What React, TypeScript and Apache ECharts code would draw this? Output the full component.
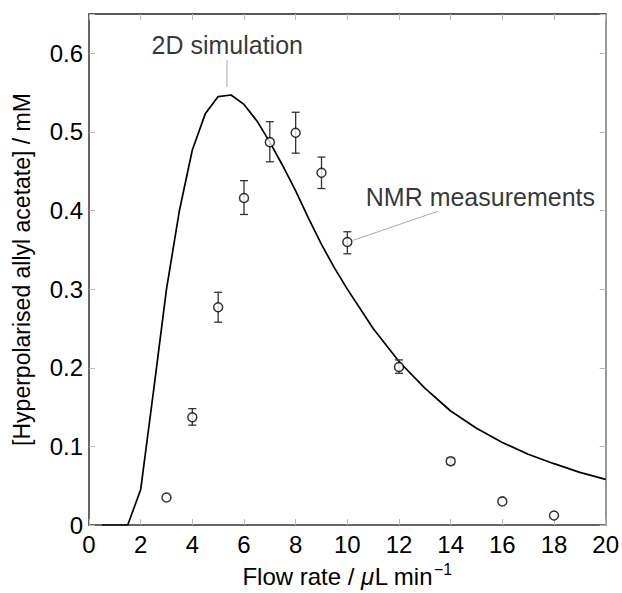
import React, { useEffect, useRef } from "react";
import * as echarts from "echarts";

// 2D simulation curve
const simX = [0.5, 1, 1.5, 2, 2.5, 3, 3.5, 4, 4.5, 5, 5.5, 6, 6.5, 7, 7.5, 8, 8.5, 9, 9.5, 10, 11, 12, 13, 14, 15, 16, 17, 18, 19, 20];
const simY = [0, 0, 0, 0.045, 0.171, 0.3, 0.4, 0.477, 0.523, 0.545, 0.547, 0.535, 0.514, 0.487, 0.457, 0.425, 0.39, 0.357, 0.327, 0.3, 0.25, 0.208, 0.174, 0.145, 0.123, 0.105, 0.09, 0.078, 0.067, 0.058];

// NMR measurements
const nmrX = [3, 4, 5, 6, 7, 8, 9, 10, 12, 14, 16, 18];
const nmrY = [0.035, 0.137, 0.277, 0.416, 0.487, 0.499, 0.448, 0.36, 0.201, 0.081, 0.03, 0.012];
const nmrLow = [0.035, 0.127, 0.258, 0.395, 0.462, 0.473, 0.428, 0.345, 0.193, 0.077, 0.03, 0.012];
const nmrHigh = [0.035, 0.148, 0.296, 0.438, 0.513, 0.525, 0.468, 0.373, 0.21, 0.085, 0.03, 0.012];

// annotations (data coordinates)
const annoText = ["2D simulation", "NMR measurements"];
const annoPos = [[5.35, 0.61], [15.15, 0.417]];
const leaderLines = [
  [[5.34, 0.591], [5.34, 0.557]],
  [[13.5, 0.399], [10.21, 0.362]],
];

const xTicks = [0, 2, 4, 6, 8, 10, 12, 14, 16, 18, 20];
const yTicks = [0, 0.1, 0.2, 0.3, 0.4, 0.5, 0.6];

const FONT = "'Liberation Sans', Arial, Helvetica, sans-serif";

export default function App() {
  const ref = useRef<HTMLDivElement>(null);
  useEffect(() => {
    if (!ref.current) return;
    const chart = echarts.init(ref.current, undefined, { renderer: "svg" });
    const tickStyle = { show: true, inside: true, length: 6, lineStyle: { color: "#bbb", width: 1 } };
    const errData = nmrX.map((x, i) => [x, nmrLow[i], nmrHigh[i]]).filter((d) => d[2] - d[1] > 0.001);
    const option: any = {
      animation: false,
      textStyle: { fontFamily: FONT },
      grid: { left: 89, right: 16, top: 14, bottom: 63, containLabel: false },
      xAxis: [
        {
          type: "value",
          min: 0,
          max: 20,
          interval: 2,
          position: "bottom",
          axisLine: { show: true, onZero: false, lineStyle: { color: "#333", width: 1.5 } },
          axisTick: tickStyle,
          splitLine: { show: false },
          axisLabel: { color: "#000", fontSize: 24, margin: 7, fontFamily: FONT, formatter: (v: number) => (xTicks.includes(v) ? String(v) : "") },
          name: "{a|Flow rate / }{i|μ}{a|L min}{s|−1}",
          nameLocation: "middle",
          nameGap: 36,
          nameTextStyle: {
            color: "#000",
            fontFamily: FONT,
            rich: {
              a: { fontSize: 24, color: "#000", fontFamily: FONT },
              i: { fontSize: 24, color: "#000", fontStyle: "italic", fontFamily: FONT },
              s: { fontSize: 16, color: "#000", verticalAlign: "top", fontFamily: FONT, padding: [0, 0, 14, 1] },
            },
          },
        },
        {
          type: "value",
          min: 0,
          max: 20,
          interval: 2,
          position: "top",
          axisLine: { show: true, onZero: false, lineStyle: { color: "#222", width: 1.5 } },
          axisTick: tickStyle,
          axisLabel: { show: false },
          splitLine: { show: false },
        },
      ],
      yAxis: [
        {
          type: "value",
          min: 0,
          max: 0.65,
          interval: 0.1,
          position: "left",
          axisLine: { show: true, onZero: false, lineStyle: { color: "#333", width: 1.5 } },
          axisTick: tickStyle,
          splitLine: { show: false },
          axisLabel: {
            color: "#000",
            fontSize: 24,
            margin: 6,
            fontFamily: FONT,
            formatter: (v: number) => {
              const t = yTicks.find((y) => Math.abs(y - v) < 1e-6);
              return t === undefined ? "" : t === 0 ? "0" : t.toFixed(1);
            },
          },
          name: "[Hyperpolarised allyl acetate] / mM",
          nameLocation: "middle",
          nameGap: 56,
          nameTextStyle: { color: "#000", fontSize: 23, fontFamily: FONT },
        },
        {
          type: "value",
          min: 0,
          max: 0.65,
          interval: 0.1,
          position: "right",
          axisLine: { show: true, onZero: false, lineStyle: { color: "#999", width: 2 } },
          axisTick: tickStyle,
          axisLabel: { show: false },
          splitLine: { show: false },
        },
      ],
      series: [
        {
          name: "2D simulation",
          type: "line",
          data: simX.map((x, i) => [x, simY[i]]),
          showSymbol: false,
          symbol: "none",
          lineStyle: { color: "#000", width: 1.7 },
          z: 3,
        },
        ...leaderLines.map((seg) => ({
          type: "line",
          data: seg,
          symbol: "none",
          lineStyle: { color: "#aaa", width: 1 },
          z: 2,
        })),
        {
          name: "err",
          type: "custom",
          data: errData,
          z: 4,
          renderItem: (params: any, api: any) => {
            const x = api.value(0);
            const lo = api.coord([x, api.value(1)]);
            const hi = api.coord([x, api.value(2)]);
            const w = 4;
            const style = { stroke: "#333", lineWidth: 1.3 };
            return {
              type: "group",
              children: [
                { type: "line", shape: { x1: lo[0], y1: lo[1], x2: hi[0], y2: hi[1] }, style },
                { type: "line", shape: { x1: lo[0] - w, y1: lo[1], x2: lo[0] + w, y2: lo[1] }, style },
                { type: "line", shape: { x1: hi[0] - w, y1: hi[1], x2: hi[0] + w, y2: hi[1] }, style },
              ],
            };
          },
        },
        {
          name: "NMR measurements",
          type: "scatter",
          data: nmrX.map((x, i) => [x, nmrY[i]]),
          symbol: "circle",
          symbolSize: 9,
          itemStyle: { color: "#fff", borderColor: "#000", borderWidth: 1.5 },
          z: 5,
        },
        {
          name: "labels",
          type: "scatter",
          data: annoPos.map((p, i) => ({ value: p, name: annoText[i] })),
          symbolSize: 1,
          itemStyle: { color: "transparent" },
          label: {
            show: true,
            position: "inside",
            formatter: (p: any) => p.name,
            color: "#000",
            fontSize: 25,
            fontFamily: FONT,
          },
          z: 6,
        },
      ],
    };
    chart.setOption(option);
    return () => chart.dispose();
  }, []);
  return <div ref={ref} style={{ position: "fixed", left: 0, top: 0, width: 622, height: 593, background: "#fff" }} />;
}
